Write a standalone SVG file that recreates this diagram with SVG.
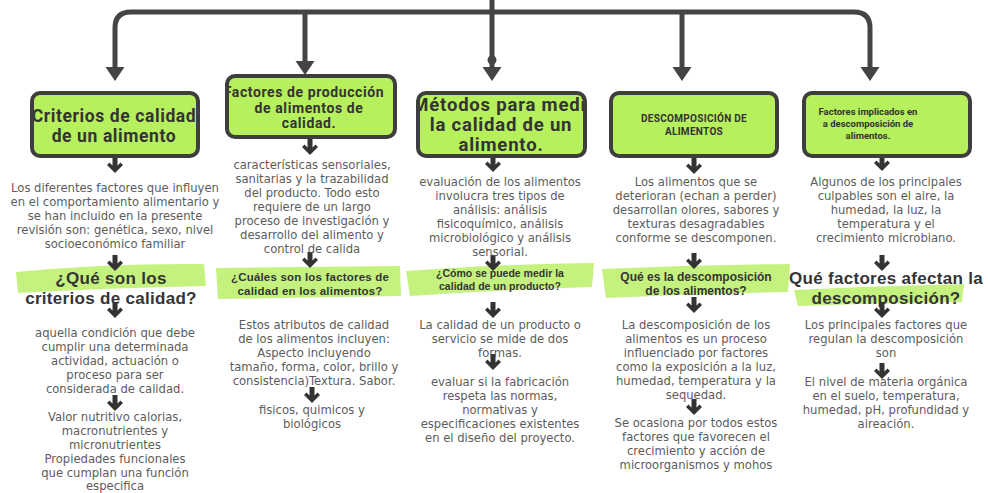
<svg xmlns="http://www.w3.org/2000/svg" width="988" height="493" viewBox="0 0 988 493">
<style>
.box{fill:#b6f05c;}
.bst{fill:none;stroke:#3e3e3e;stroke-width:4;}
.bt{font-family:Roboto,"Liberation Sans",sans-serif;font-weight:700;fill:#333;text-anchor:middle;}
.p{font-family:"DejaVu Sans","Open Sans",sans-serif;font-size:11.6px;fill:#5c5c5c;text-anchor:middle;}
.h{font-family:"Liberation Sans",Arial,sans-serif;font-weight:700;fill:#343434;text-anchor:middle;}
.hl{fill:#c5f27e;}
.con{fill:none;stroke:#444;stroke-width:5;stroke-linejoin:round;}
.ah{fill:#444;}
.ic{fill:#333;}
</style>
<defs>
<path id="head" d="M-9.5,0 H9.5 L0,14 Z"/>
<path id="ar" d="M-2.5,-8 H2.5 V0.5 L5.5,-2.5 L8,0 L0,8 L-8,0 L-5.5,-2.5 L-2.5,0.5 Z"/>
<clipPath id="c1"><rect x="32" y="93" width="166" height="63" rx="8"/></clipPath>
<clipPath id="c2"><rect x="227" y="76" width="168" height="61" rx="8"/></clipPath>
<clipPath id="c3"><rect x="418" y="93" width="167" height="63" rx="8"/></clipPath>
</defs>
<rect width="988" height="493" fill="#ffffff"/>

<g id="highlights">
<path class="hl" d="M16,272 Q110,263 204,264 L206,286 Q110,288 18,293 Z"/>
<path class="hl" d="M216,268 L400,266 L401,296 L218,299 Z"/>
<path class="hl" d="M406,271 Q500,264 594,263 L592,287 Q500,290 410,296 Z"/>
<path class="hl" d="M602,269 Q696,265 790,264 L788,292 Q696,294 606,298 Z"/>
<path class="hl" d="M794,290 Q880,286 964,284 L962,302 Q880,303 798,306 Z"/>
</g>

<g id="connectors">
<path class="con" d="M115,68 V28 Q115,12 131,12 H854 Q870,12 870,28 V68"/>
<path class="con" d="M492,0 V68 M305,12 V62 M682,12 V68"/>
<circle cx="492" cy="60" r="4.5" fill="#444"/>
<use href="#head" class="ah" x="115" y="67"/>
<use href="#head" class="ah" x="305" y="61"/>
<use href="#head" class="ah" x="492" y="67"/>
<use href="#head" class="ah" x="682" y="67"/>
<use href="#head" class="ah" x="870" y="67"/>
<g class="ic">
<use href="#ar" x="115" y="165"/>
<use href="#ar" x="115" y="263"/>
<use href="#ar" x="115" y="310"/>
<use href="#ar" x="115" y="403"/>
<use href="#ar" x="310" y="147"/>
<use href="#ar" x="310" y="260"/>
<use href="#ar" x="312" y="395"/>
<use href="#ar" x="493" y="164"/>
<use href="#ar" x="493" y="263"/>
<use href="#ar" x="493" y="310"/>
<use href="#ar" x="493" y="362"/>
<use href="#ar" x="694" y="166"/>
<use href="#ar" x="694" y="261"/>
<use href="#ar" x="694" y="305"/>
<use href="#ar" x="694" y="407"/>
<use href="#ar" x="882" y="163"/>
<use href="#ar" x="882" y="263"/>
<use href="#ar" x="882" y="310"/>
<use href="#ar" x="882" y="371"/>
</g>
</g>

<g id="n1">
<rect class="box" x="32" y="93" width="166" height="63" rx="8"/>
<g clip-path="url(#c1)">
<text class="bt" font-size="17.5" letter-spacing="0.6" x="114" y="122">Criterios de calidad</text>
<text class="bt" font-size="17.5" letter-spacing="0.6" x="114" y="142">de un alimento</text>
</g>
<rect class="bst" x="32" y="93" width="166" height="63" rx="8"/>
</g>
<g id="n2">
<rect class="box" x="227" y="76" width="168" height="61" rx="8"/>
<g clip-path="url(#c2)">
<text class="bt" font-size="14" letter-spacing="0.6" x="304" y="97">Factores de producción</text>
<text class="bt" font-size="14" letter-spacing="0.6" x="309" y="112.5">de alimentos de</text>
<text class="bt" font-size="14" letter-spacing="0.6" x="309" y="128">calidad.</text>
</g>
<rect class="bst" x="227" y="76" width="168" height="61" rx="8"/>
</g>
<g id="n3">
<rect class="box" x="418" y="93" width="167" height="63" rx="8"/>
<g clip-path="url(#c3)">
<text class="bt" font-size="18.5" letter-spacing="0.8" x="503" y="111">Métodos para medir</text>
<text class="bt" font-size="18.5" letter-spacing="0.8" x="501" y="131">la calidad de un</text>
<text class="bt" font-size="18.5" letter-spacing="0.8" x="501" y="151">alimento.</text>
</g>
<rect class="bst" x="418" y="93" width="167" height="63" rx="8"/>
</g>
<g id="n4">
<rect class="box" x="611" y="93" width="166" height="63" rx="8"/>
<text class="bt" font-size="10" letter-spacing="0.3" x="694" y="122">DESCOMPOSICIÓN DE</text>
<text class="bt" font-size="10" letter-spacing="0.3" x="694" y="135">ALIMENTOS</text>
<rect class="bst" x="611" y="93" width="166" height="63" rx="8"/>
</g>
<g id="n5">
<rect class="box" x="804" y="93" width="166" height="63" rx="8"/>
<text class="bt" font-size="9.5" x="868" y="115">Factores implicados en</text>
<text class="bt" font-size="9.5" x="868" y="127">a descomposición de</text>
<text class="bt" font-size="9.5" x="868" y="139">alimentos.</text>
<rect class="bst" x="804" y="93" width="166" height="63" rx="8"/>
</g>

<g id="col1">
<text class="p" x="115" y="192">Los diferentes factores que influyen</text>
<text class="p" x="115" y="206">en el comportamiento alimentario y</text>
<text class="p" x="115" y="220">se han incluido en la presente</text>
<text class="p" x="115" y="234">revisión son: genética, sexo, nivel</text>
<text class="p" x="115" y="248">socioeconómico familiar</text>
<text class="h" font-size="17" letter-spacing="0.3" x="111" y="284">¿Qué son los</text>
<text class="h" font-size="17" letter-spacing="0.3" x="111" y="304">criterios de calidad?</text>
<text class="p" x="115" y="337">aquella condición que debe</text>
<text class="p" x="115" y="351">cumplir una determinada</text>
<text class="p" x="115" y="365">actividad, actuación o</text>
<text class="p" x="115" y="379">proceso para ser</text>
<text class="p" x="115" y="393">considerada de calidad.</text>
<text class="p" x="115" y="421">Valor nutritivo calorias,</text>
<text class="p" x="115" y="435">macronutrientes y</text>
<text class="p" x="115" y="449">micronutrientes</text>
<text class="p" x="115" y="463">Propiedades funcionales</text>
<text class="p" x="115" y="477">que cumplan una función</text>
<text class="p" x="115" y="490">especifica</text>
</g>

<g id="col2">
<text class="p" x="312" y="169">características sensoriales,</text>
<text class="p" x="312" y="183">sanitarias y la trazabilidad</text>
<text class="p" x="312" y="197">del producto. Todo esto</text>
<text class="p" x="312" y="211">requiere de un largo</text>
<text class="p" x="312" y="225">proceso de investigación y</text>
<text class="p" x="312" y="239">desarrollo del alimento y</text>
<text class="p" x="312" y="253">control de calida</text>
<text class="h" font-size="11.5" letter-spacing="0.2" x="310" y="281">¿Cuáles son los factores de</text>
<text class="h" font-size="11.5" letter-spacing="0.2" x="310" y="295">calidad en los alimentos?</text>
<text class="p" x="314" y="329">Estos atributos de calidad</text>
<text class="p" x="314" y="343">de los alimentos incluyen:</text>
<text class="p" x="314" y="357">Aspecto incluyendo</text>
<text class="p" x="314" y="371">tamaño, forma, color, brillo y</text>
<text class="p" x="314" y="385">consistencia)Textura. Sabor.</text>
<text class="p" x="312" y="414">fisicos, quimicos y</text>
<text class="p" x="312" y="428">biológicos</text>
</g>

<g id="col3">
<text class="p" x="500" y="186">evaluación de los alimentos</text>
<text class="p" x="500" y="200">involucra tres tipos de</text>
<text class="p" x="500" y="214">análisis: análisis</text>
<text class="p" x="500" y="228">fisicoquímico, análisis</text>
<text class="p" x="500" y="242">microbiológico y análisis</text>
<text class="p" x="500" y="256">sensorial.</text>
<text class="h" font-size="10.5" x="500" y="277">¿Cómo se puede medir la</text>
<text class="h" font-size="10.5" x="500" y="289.5">calidad de un producto?</text>
<text class="p" x="500" y="329">La calidad de un producto o</text>
<text class="p" x="500" y="343">servicio se mide de dos</text>
<text class="p" x="500" y="357">formas.</text>
<text class="p" x="500" y="386">evaluar si la fabricación</text>
<text class="p" x="500" y="400">respeta las normas,</text>
<text class="p" x="500" y="414">normativas y</text>
<text class="p" x="500" y="428">especificaciones existentes</text>
<text class="p" x="500" y="442">en el diseño del proyecto.</text>
</g>

<g id="col4">
<text class="p" x="696" y="186">Los alimentos que se</text>
<text class="p" x="696" y="200">deterioran (echan a perder)</text>
<text class="p" x="696" y="214">desarrollan olores, sabores y</text>
<text class="p" x="696" y="228">texturas desagradables</text>
<text class="p" x="696" y="242">conforme se descomponen.</text>
<text class="h" font-size="12" x="696" y="281">Qué es la descomposición</text>
<text class="h" font-size="12" x="696" y="295">de los alimentos?</text>
<text class="p" x="696" y="329">La descomposición de los</text>
<text class="p" x="696" y="343">alimentos es un proceso</text>
<text class="p" x="696" y="357">influenciado por factores</text>
<text class="p" x="696" y="371">como la exposición a la luz,</text>
<text class="p" x="696" y="385">humedad, temperatura y la</text>
<text class="p" x="696" y="399">sequedad.</text>
<text class="p" x="696" y="427">Se ocasiona por todos estos</text>
<text class="p" x="696" y="441">factores que favorecen el</text>
<text class="p" x="696" y="455">crecimiento y acción de</text>
<text class="p" x="696" y="469">microorganismos y mohos</text>
</g>

<g id="col5">
<text class="p" x="886" y="186">Algunos de los principales</text>
<text class="p" x="886" y="200">culpables son el aire, la</text>
<text class="p" x="886" y="214">humedad, la luz, la</text>
<text class="p" x="886" y="228">temperatura y el</text>
<text class="p" x="886" y="242">crecimiento microbiano.</text>
<text class="h" font-size="17" letter-spacing="0.3" x="886" y="284">Qué factores afectan la</text>
<text class="h" font-size="17" letter-spacing="0.3" x="886" y="304">descomposición?</text>
<text class="p" x="886" y="329">Los principales factores que</text>
<text class="p" x="886" y="343">regulan la descomposición</text>
<text class="p" x="886" y="357">son</text>
<text class="p" x="886" y="386">El nivel de materia orgánica</text>
<text class="p" x="886" y="400">en el suelo, temperatura,</text>
<text class="p" x="886" y="414">humedad, pH, profundidad y</text>
<text class="p" x="886" y="428">aireación.</text>
</g>
</svg>
